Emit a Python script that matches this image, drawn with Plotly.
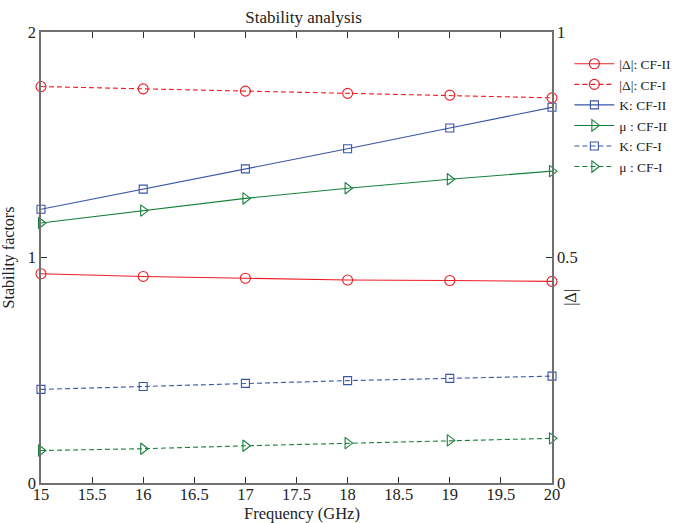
import plotly.graph_objects as go

# Frequency sweep (GHz)
freq = [15, 16, 17, 18, 19, 20]

# |Δ| (right axis)
delta_cf2 = [0.464, 0.458, 0.454, 0.450, 0.449, 0.447]
delta_cf1 = [0.879, 0.874, 0.869, 0.864, 0.860, 0.854]

# Stability factors (left axis)
k_cf2 = [1.214, 1.303, 1.393, 1.482, 1.574, 1.666]
mu_cf2 = [1.153, 1.208, 1.262, 1.307, 1.347, 1.383]
k_cf1 = [0.415, 0.428, 0.442, 0.454, 0.464, 0.474]
mu_cf1 = [0.144, 0.152, 0.165, 0.177, 0.189, 0.198]

RED = "rgb(238,28,36)"
BLUE = "rgb(58,84,168)"
GREEN = "rgb(24,128,60)"
DASH = "5px,3px"
FONT = "Liberation Serif"

fig = go.Figure()

def add(y, name, color, symbol, size, dash, axis):
    fig.add_trace(go.Scatter(
        x=freq, y=y, name=name, yaxis=axis, mode="lines+markers",
        line=dict(color=color, width=1.1, dash=dash),
        marker=dict(symbol=symbol, size=size, color=color,
                    line=dict(color=color, width=1.1)),
        cliponaxis=False,
    ))

add(delta_cf2, "|Δ|: CF-II", RED, "circle-open", 10, "solid", "y2")
add(delta_cf1, "|Δ|: CF-I", RED, "circle-open", 10, DASH, "y2")
add(k_cf2, "K: CF-II", BLUE, "square-open", 8, "solid", "y")
add(mu_cf2, "μ : CF-II", GREEN, "triangle-right-open", 10, "solid", "y")
add(k_cf1, "K: CF-I", BLUE, "square-open", 8, DASH, "y")
add(mu_cf1, "μ : CF-I", GREEN, "triangle-right-open", 10, DASH, "y")

axis_line = dict(showline=True, linecolor="#707070", linewidth=1.5,
                 ticks="inside", ticklen=6, tickcolor="#303030", tickwidth=1,
                 showgrid=False, zeroline=False, automargin=False,
                 tickfont=dict(family=FONT, size=16.5, color="#222"))

text_font = dict(family=FONT, size=16, color="#222")

fig.update_layout(
    width=688, height=523,
    margin=dict(l=41, r=128, t=32, b=40),
    paper_bgcolor="white", plot_bgcolor="white",
    font=dict(family=FONT, size=15, color="#222"),
    title=dict(text="Stability analysis", x=0.514, xref="paper",
               xanchor="center",
               y=1 - 17 / 523, yref="container", yanchor="middle",
               font=dict(family=FONT, size=17, color="#222")),
    xaxis=dict(range=[15, 20], dtick=0.5, tick0=15, mirror="ticks",
               ticklabelstandoff=-5, **axis_line),
    yaxis=dict(range=[0, 2], tickvals=[0, 1, 2],
               title=dict(text="Stability factors", font=text_font),
               **axis_line),
    yaxis2=dict(range=[0, 1], tickvals=[0, 0.5, 1], overlaying="y",
                side="right", **axis_line),
    legend=dict(x=1.034, y=(482.5 - 48) / 451, xanchor="left", yanchor="top",
                bgcolor="rgba(0,0,0,0)", font=dict(family=FONT, size=13.5),
                itemwidth=40, tracegroupgap=0),
    annotations=[
        dict(text="Frequency (GHz)", xref="paper", yref="paper",
             x=0.51, y=(482.5 - 512.5) / 451, yanchor="middle",
             showarrow=False, font=dict(family=FONT, size=16.5, color="#222")),
        dict(text="|Δ|", textangle=-90, xref="paper", yref="paper",
             x=1.06, y=0.412, showarrow=False, font=text_font),
    ],
)

fig.write_html("out.html")
